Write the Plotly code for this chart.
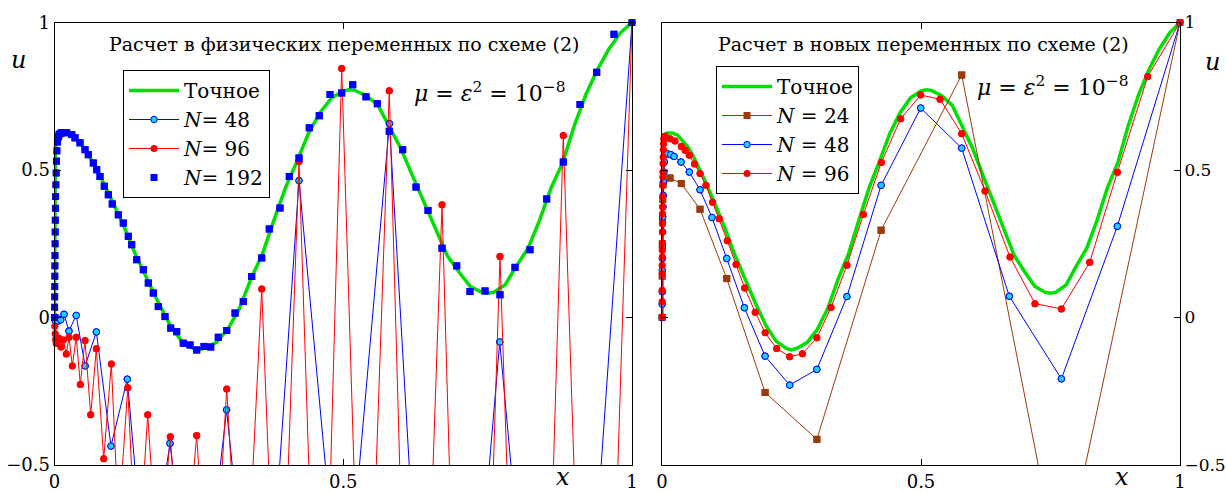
import plotly.graph_objects as go

# ---------------- data ----------------
exact_x = [0, 0.0003, 0.0008, 0.0015, 0.003, 0.006, 0.01, 0.02, 0.03, 0.04, 0.05, 0.06, 0.08, 0.10,
           0.12, 0.14, 0.16, 0.18, 0.20, 0.22, 0.24, 0.25, 0.26, 0.28, 0.30, 0.32, 0.34, 0.36, 0.38,
           0.40, 0.42, 0.44, 0.46, 0.48, 0.50, 0.51, 0.52, 0.54, 0.56, 0.58, 0.60, 0.62, 0.64, 0.66,
           0.68, 0.70, 0.72, 0.74, 0.75, 0.76, 0.78, 0.80, 0.82, 0.84, 0.86, 0.88, 0.90, 0.92, 0.94,
           0.96, 0.98, 1.0]
exact_u = [0, 0.25, 0.45, 0.56, 0.61, 0.622, 0.625, 0.625, 0.618, 0.60, 0.578, 0.548, 0.475, 0.395,
           0.31, 0.215, 0.13, 0.05, -0.025, -0.08, -0.105, -0.11, -0.105, -0.085, -0.04, 0.03, 0.13,
           0.215, 0.33, 0.44, 0.53, 0.625, 0.695, 0.745, 0.768, 0.772, 0.77, 0.752, 0.72, 0.645,
           0.572, 0.48, 0.39, 0.295, 0.21, 0.155, 0.105, 0.085, 0.082, 0.085, 0.11, 0.175, 0.235,
           0.33, 0.44, 0.525, 0.65, 0.755, 0.84, 0.91, 0.965, 1.0]

# Left panel: physical variables
L48_x = [0, 0.001, 0.003, 0.006, 0.0107, 0.0165, 0.0250, 0.0375, 0.0530, 0.0725, 0.0978, 0.126,
         0.159, 0.200, 0.2465, 0.298, 0.357, 0.4234, 0.4994, 0.580, 0.6705, 0.771, 0.879, 1.0]
L48_u = [0, -0.01, 0.0, -0.012, -0.008, 0.011, -0.046, 0.007, -0.164, -0.049, -0.436, -0.209,
         -0.95, -0.427, -1.2, -0.313, -1.45, 0.464, -1.14, 0.657, -2.4, -0.083, -2.4, 1.0]

L96_x = [0, 0.0004, 0.0010, 0.0018, 0.0028, 0.0038, 0.0078, 0.0113, 0.0152, 0.0204, 0.0251, 0.0308,
         0.0377, 0.0447, 0.0528, 0.0627, 0.0724, 0.0852, 0.0984, 0.111, 0.1268, 0.143, 0.1614, 0.180,
         0.2005, 0.2214, 0.2462, 0.271, 0.2982, 0.3263, 0.3588, 0.3887, 0.4234, 0.4608, 0.4973,
         0.5367, 0.5797, 0.6236, 0.671, 0.720, 0.7714, 0.8257, 0.881, 0.9377, 1.0]
L96_u = [0, -0.03, -0.055, -0.075, -0.088, -0.076, -0.07, -0.100, -0.076, -0.124, -0.067, -0.164,
         -0.067, -0.227, -0.078, -0.330, -0.106, -0.479, -0.158, -0.70, -0.238, -0.90, -0.330, -0.88,
         -0.404, -0.97, -0.400, -1.16, -0.242, -1.20, 0.097, -1.40, 0.529, -1.75, 0.844,
         -1.66, 0.769, -2.32, 0.382, -3.0, 0.207, -3.03, 0.617, -2.82, 1.0]

L192_x = [0, 0.0001, 0.0002, 0.0003, 0.0004, 0.0005, 0.0006, 0.0008, 0.001, 0.0012, 0.0015, 0.0018,
          0.0022, 0.0027, 0.0033, 0.004, 0.005, 0.0065, 0.008, 0.010, 0.012, 0.0145, 0.0175,
          0.0211, 0.0298, 0.0355, 0.0442, 0.0528, 0.0585, 0.0672, 0.0731, 0.0788, 0.0862, 0.0932,
          0.1000, 0.1105, 0.1191, 0.1278, 0.1337, 0.1423, 0.1538, 0.1624, 0.1711, 0.1797, 0.1913,
          0.2012, 0.2116, 0.2230, 0.2346, 0.2462, 0.2589, 0.2705, 0.2836, 0.2982, 0.3126, 0.3269,
          0.3415, 0.3588, 0.3719, 0.3905, 0.4066, 0.4234, 0.4412, 0.4585, 0.4771, 0.4973, 0.5164,
          0.5394, 0.5590, 0.5797, 0.6029, 0.6260, 0.6468, 0.6710, 0.6965, 0.7195, 0.7455, 0.7714,
          0.7974, 0.8234, 0.8523, 0.8810, 0.9100, 0.9389, 0.9688, 1.0]
L192_u = [0, 0.035, 0.07, 0.105, 0.14, 0.175, 0.21, 0.25, 0.29, 0.33, 0.37, 0.41,
          0.45, 0.49, 0.53, 0.565, 0.595, 0.612, 0.62, 0.624, 0.626, 0.627, 0.627,
          0.626, 0.620, 0.609, 0.592, 0.569, 0.552, 0.524, 0.501, 0.478, 0.445, 0.416,
          0.385, 0.348, 0.320, 0.275, 0.247, 0.196, 0.162, 0.117, 0.083, 0.037, 0.003,
          -0.036, -0.048, -0.087, -0.093, -0.110, -0.098, -0.100, -0.067, -0.044, 0.015, 0.054,
          0.139, 0.202, 0.300, 0.371, 0.478, 0.541, 0.643, 0.684, 0.756, 0.761, 0.789,
          0.748, 0.725, 0.631, 0.569, 0.442, 0.363, 0.235, 0.175, 0.088, 0.090, 0.077,
          0.170, 0.230, 0.402, 0.527, 0.722, 0.831, 0.960, 1.0]

# Right panel: new variables
R24_x = [0, 0.0002, 0.0005, 0.0009, 0.0014, 0.0020, 0.0154, 0.0373, 0.0734, 0.125, 0.199, 0.299,
         0.423, 0.5786, 0.770, 1.0]
R24_u = [0.0, 0.14, 0.25, 0.33, 0.40, 0.45, 0.473, 0.454, 0.367, 0.132, -0.254, -0.413,
         0.296, 0.822, -0.89, 1.0]

R48_x = [0, 0.0001, 0.0002, 0.0004, 0.0006, 0.0008, 0.0011, 0.0014, 0.0018, 0.0023, 0.0029, 0.0036,
         0.0045, 0.0102, 0.0168, 0.0232, 0.0367, 0.0527, 0.0734, 0.0965, 0.125, 0.159, 0.199,
         0.2465, 0.299, 0.357, 0.423, 0.4994, 0.5786, 0.6705, 0.771, 0.879, 1.0]
R48_u = [0, 0.045, 0.087, 0.16, 0.20, 0.239, 0.29, 0.341, 0.375, 0.414, 0.459, 0.493,
         0.527, 0.555, 0.552, 0.546, 0.527, 0.493, 0.433, 0.339, 0.2, 0.033, -0.131,
         -0.229, -0.176, 0.071, 0.448, 0.71, 0.574, 0.072, -0.208, 0.309, 1.0]

R96_x = [0, 0.00005, 0.0001, 0.00015, 0.0002, 0.0003, 0.0004, 0.0005, 0.0006, 0.0007, 0.0008,
         0.0009, 0.0010, 0.0012, 0.0014, 0.0016, 0.0018, 0.0021, 0.0024, 0.0028, 0.0032,
         0.0058, 0.0154, 0.025, 0.0373, 0.0447, 0.0527, 0.0627, 0.0734, 0.0849, 0.0975, 0.1106,
         0.126, 0.143, 0.1596, 0.18, 0.199, 0.2214, 0.2465, 0.271, 0.299, 0.3263, 0.357, 0.3887,
         0.4234, 0.4608, 0.4994, 0.5367, 0.5786, 0.6236, 0.6718, 0.72, 0.771, 0.8257, 0.879,
         0.9377, 1.0]
R96_u = [0.002, 0.053, 0.092, 0.149, 0.177, 0.205, 0.228, 0.251, 0.29, 0.318, 0.352,
         0.375, 0.409, 0.448, 0.476, 0.493, 0.522, 0.544, 0.569, 0.589, 0.606,
         0.614, 0.606, 0.598, 0.58, 0.567, 0.55, 0.52, 0.488, 0.448, 0.391, 0.335,
         0.26, 0.18, 0.1, 0.018, -0.052, -0.105, -0.133, -0.123, -0.069, 0.034, 0.177, 0.349,
         0.525, 0.674, 0.754, 0.74, 0.623, 0.429, 0.205, 0.047, 0.029, 0.187, 0.492,
         0.817, 1.0]

x_ticks = [0, 0.5, 1]
x_ticklabels = ["0", "0.5", "1"]
y_ticks = [-0.5, 0, 0.5, 1]
y_ticklabels = ["\u22120.5", "0", "0.5", "1"]
Y_MIN, Y_MAX = -0.5, 1.0

title_left = "Расчет в физических переменных по схеме (2)"
title_right = "Расчет в новых переменных по схеме (2)"
param_text = "<i>μ</i> = <i>ε</i><sup>2</sup> = 10<sup>\u22128</sup>"

# ---------------- styling ----------------
SERIF = "DejaVu Serif"
GREEN = "#00E000"
BLUE = "#0000FF"
RED = "#FF0000"
CYAN = "#1CD2FF"
BROWN = "#9B3A0A"

fig = go.Figure()


def in_range(xs, ys):
    px, py = [], []
    for a, b in zip(xs, ys):
        if Y_MIN <= b <= Y_MAX:
            px.append(a)
            py.append(b)
    return px, py


def series(xs, ys, name, line, marker, xa, ya, leg, mode="lines+markers"):
    fig.add_trace(go.Scatter(x=xs, y=ys, mode=mode, name=name, line=line, marker=marker,
                             xaxis=xa, yaxis=ya, legend=leg))
    if "markers" in mode:
        mx, my = in_range(xs, ys)
        fig.add_trace(go.Scatter(x=mx, y=my, mode="markers", marker=marker, showlegend=False,
                                 cliponaxis=False, xaxis=xa, yaxis=ya, hoverinfo="skip"))


m48 = dict(symbol="circle", size=6.5, color=CYAN, line=dict(color=BLUE, width=1))
m96 = dict(symbol="circle", size=7, color=RED, line=dict(width=0))
m192 = dict(symbol="square", size=7, color=BLUE, line=dict(width=0))
m24 = dict(symbol="square", size=7, color=BROWN, line=dict(width=0))

fig.add_trace(go.Scatter(x=exact_x, y=exact_u, mode="lines", name="Точное",
                         line=dict(color=GREEN, width=3.5), xaxis="x", yaxis="y", legend="legend"))
series(L48_x, L48_u, "<i>N</i>= 48", dict(color=BLUE, width=1), m48, "x", "y", "legend")
series(L96_x, L96_u, "<i>N</i>= 96", dict(color=RED, width=1), m96, "x", "y", "legend")
series(L192_x, L192_u, "<i>N</i>= 192", None, m192, "x", "y", "legend", mode="markers")

fig.add_trace(go.Scatter(x=exact_x, y=exact_u, mode="lines", name="Точное",
                         line=dict(color=GREEN, width=3.5), xaxis="x2", yaxis="y2", legend="legend2"))
series(R24_x, R24_u, "<i>N</i> = 24", dict(color=BROWN, width=1), m24, "x2", "y2", "legend2")
series(R48_x, R48_u, "<i>N</i> = 48", dict(color=BLUE, width=1), m48, "x2", "y2", "legend2")
series(R96_x, R96_u, "<i>N</i> = 96", dict(color=RED, width=1), m96, "x2", "y2", "legend2")

W, H = 1226, 492
ydom = [(H - 465) / H, (H - 22.5) / H]

axis_common = dict(showline=True, linecolor="black", linewidth=1, mirror="allticks",
                   ticks="inside", ticklen=6, tickcolor="black", showgrid=False, zeroline=False,
                   automargin=False)
tick_font = dict(family=SERIF, size=18, color="black")

leg_common = dict(xanchor="left", yanchor="top", bgcolor="white", bordercolor="black",
                  borderwidth=1, itemwidth=50, tracegroupgap=0,
                  font=dict(family=SERIF, size=20, color="black"))

fig.update_layout(
    template="none",
    font=dict(family=SERIF, color="black"),
    width=W, height=H,
    margin=dict(l=0, r=0, t=0, b=0, autoexpand=False),
    paper_bgcolor="white", plot_bgcolor="white",
    showlegend=True,
    xaxis=dict(domain=[54.5 / W, 632 / W], range=[0, 1], tickvals=x_ticks, ticktext=x_ticklabels,
               anchor="y", tickfont=tick_font, **axis_common),
    yaxis=dict(domain=ydom, range=[Y_MIN, Y_MAX], tickvals=y_ticks, ticktext=y_ticklabels,
               anchor="x", tickfont=tick_font, **axis_common),
    xaxis2=dict(domain=[662 / W, 1180 / W], range=[0, 1], tickvals=x_ticks, ticktext=x_ticklabels,
                anchor="y2", tickfont=tick_font, **axis_common),
    yaxis2=dict(domain=ydom, range=[Y_MIN, Y_MAX], tickvals=y_ticks, ticktext=y_ticklabels,
                anchor="x2", side="right", tickfont=dict(family=SERIF, size=17, color="black"),
                **axis_common),
    legend=dict(x=123 / W, y=(H - 70) / H, **leg_common),
    legend2=dict(x=716 / W, y=(H - 66) / H, **leg_common),
)

title_font = dict(family=SERIF, size=19, color="black")
fig.add_annotation(text=title_left, x=344 / W, y=(H - 44) / H, xref="paper", yref="paper",
                   showarrow=False, font=title_font, xanchor="center", yanchor="middle")
fig.add_annotation(text=title_right, x=923 / W, y=(H - 44) / H, xref="paper", yref="paper",
                   showarrow=False, font=title_font, xanchor="center", yanchor="middle")
param_font = dict(family=SERIF, size=22, color="black")
fig.add_annotation(text=param_text, x=412 / W, y=(H - 92) / H, xref="paper", yref="paper",
                   showarrow=False, font=param_font, xanchor="left", yanchor="middle")
fig.add_annotation(text=param_text, x=975 / W, y=(H - 86) / H, xref="paper", yref="paper",
                   showarrow=False, font=param_font, xanchor="left", yanchor="middle")

lab_font = dict(family=SERIF, size=24, color="black")
for txt, px, py in [("<i>u</i>", 18, 60), ("<i>x</i>", 563, 477),
                    ("<i>u</i>", 1212, 62), ("<i>x</i>", 1122, 477)]:
    fig.add_annotation(text=txt, x=px / W, y=(H - py) / H, xref="paper", yref="paper",
                       showarrow=False, font=lab_font, xanchor="center", yanchor="middle")

fig.write_html("out.html")
